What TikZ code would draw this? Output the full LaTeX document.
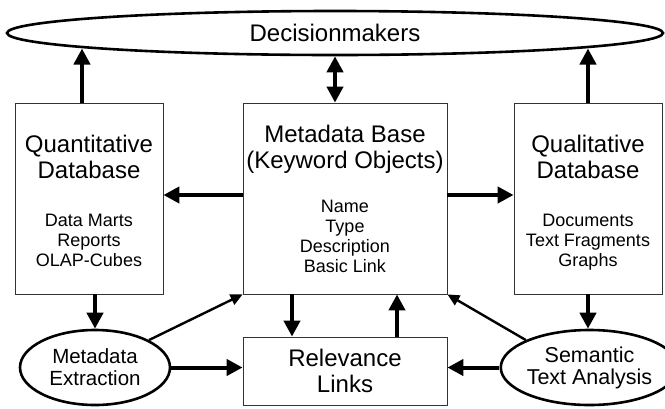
\documentclass[tikz,border=0pt]{standalone}
\usepackage{fontspec}
\setmainfont{Liberation Sans}
\usetikzlibrary{shapes.geometric, arrows.meta, positioning}
\newcommand{\bigf}{\fontsize{24}{26}\selectfont}
\newcommand{\smallf}{\fontsize{18}{20}\selectfont}
\newcommand{\ovf}{\fontsize{20.5}{22}\selectfont}
\newcommand{\itemlist}[1]{{\smallf\begin{tabular}[t]{@{}c@{}}#1\end{tabular}}}

\begin{document}
\begin{tikzpicture}[x=1pt,y=-1pt]
\tikzset{
  db/.style={rectangle,draw=black!80,line width=0.8pt,align=center,inner sep=0pt,font=\bigf,minimum width=148pt,minimum height=191pt},
  ov/.style={ellipse,draw=black,line width=2.6pt,align=center,inner sep=0pt},
  ar/.style={-{Triangle[length=16pt,width=16pt]},line width=4pt},
  tn/.style={-{Triangle[length=12pt,width=11pt]},line width=2.4pt},
  dar/.style={{Triangle[length=16pt,width=16pt]}-{Triangle[length=16pt,width=16pt]},line width=4pt}
}
\useasboundingbox (0,0) rectangle (665,408);
\node[ov,minimum width=656pt,minimum height=44pt,font=\bigf] (dm) at (335,33) {Decisionmakers};
\node[db] (quant) at (89,198.5) {Quantitative\\Database\\[22pt]\itemlist{Data Marts\\Reports\\OLAP-Cubes}\\[-12pt]};
\node[db,minimum width=204pt] (meta) at (345,198.5) {Metadata Base\\(Keyword Objects)\\[18pt]\itemlist{Name\\Type\\Description\\Basic Link}\\[-7pt]};
\node[db] (qual) at (588,198.5) {Qualitative\\Database\\[22pt]\itemlist{Documents\\Text Fragments\\Graphs}\\[-12pt]};
\node[db,minimum width=204pt,minimum height=68pt] (rel) at (345,371) {Relevance\\Links};
\node[ov,minimum width=150pt,minimum height=75pt,font=\ovf] (mex) at (95,367.5) {Metadata\\Extraction};
\node[ov,minimum width=149pt,minimum height=75pt,font=\fontsize{21.5}{22}\selectfont] (sem) at (589.5,367.5) {Semantic\\Text Analysis};
\coordinate (dmL) at (82,48.5);
\coordinate (dmR) at (588,48.5);
% upper level
\draw[ar] (dmL |- quant.north) -- (dmL);
\draw[ar] (dmR |- qual.north) -- (dmR);
\draw[dar] (dm.south) -- (dm.south |- meta.north);
\draw[ar] ([yshift=3.5pt]meta.west) -- ([yshift=3.5pt]quant.east);
\draw[ar] ([yshift=3.5pt]meta.east) -- ([yshift=3.5pt]qual.west);
% lower level
\draw[ar] (mex.north |- quant.south) -- (mex.north);
\draw[ar] (qual.south) -- (qual.south |- sem.north);
\draw[tn] (mex.north east) -- (meta.south west);
\draw[tn] (sem.north west) -- (meta.south east);
\draw[ar] (mex.east) -- (mex.east -| rel.west);
\draw[ar] (sem.west) -- (sem.west -| rel.east);
\draw[ar] ([xshift=-53pt]meta.south) -- ([xshift=-53pt]rel.north);
\draw[ar] ([xshift=52pt]rel.north) -- ([xshift=52pt]meta.south);
\end{tikzpicture}
\end{document}
